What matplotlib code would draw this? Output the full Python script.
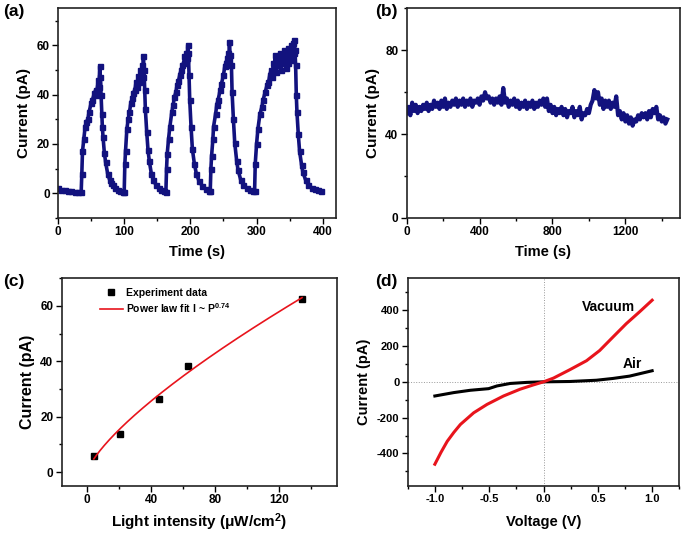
import numpy as np
import matplotlib
matplotlib.use('Agg')
import matplotlib.pyplot as plt
from matplotlib.ticker import MultipleLocator

plt.rcParams['font.family'] = ['Liberation Sans', 'DejaVu Sans']
plt.rcParams['font.weight'] = 'bold'
plt.rcParams['axes.labelweight'] = 'bold'
plt.rcParams['axes.unicode_minus'] = False
plt.rcParams['mathtext.fontset'] = 'custom'
plt.rcParams['mathtext.rm'] = 'Liberation Sans:bold'
plt.rcParams['mathtext.bf'] = 'Liberation Sans:bold'
plt.rcParams['mathtext.default'] = 'regular'

NAVY = '#12127e'

# (a) on/off photo-response, time (s) and current (pA)
a_time = [0, 5, 10, 15, 20, 25, 30, 35,
          36, 37, 39, 41, 43, 45, 47, 50, 52, 55, 57, 58, 60, 61, 62, 63, 64, 65, 66, 67, 68,
          70, 72, 75, 78, 80, 83, 86, 90, 94, 98, 100,
          101, 102, 104, 106, 108, 110, 112, 114, 116, 118, 119, 121, 123, 124, 126, 127, 128,
          129, 130, 131, 132, 134, 136, 138, 141, 144, 148, 152, 156, 160, 163,
          164, 165, 167, 169, 172, 174, 176, 178, 180, 182, 184, 186, 188, 190, 191, 193, 194,
          195, 196, 197, 198, 199, 201, 203, 206, 209, 213, 218, 223, 228, 230,
          231, 232, 234, 235, 238, 240, 242, 245, 247, 250, 252, 254, 256, 257, 258, 259, 260,
          262, 263, 265, 267, 270, 272, 276, 280, 285, 290, 295, 297,
          298, 300, 302, 305, 308, 310, 313, 316, 318, 320, 322, 324, 325, 327, 328, 330, 332,
          334, 335, 337, 338, 340, 342, 344, 345, 347, 348, 350, 352, 353, 355, 356, 357, 358,
          359, 360, 361, 363, 365, 368, 370, 374, 378, 383, 388, 393, 398]
a_current = [2.0, 1.5, 1.2, 1.0, 0.8, 0.6, 0.5, 0.4,
             8, 17, 22, 27, 29, 30, 33, 36.5, 38, 40.5, 42, 40, 44, 46, 43, 51.5, 47, 40, 32, 27, 23,
             16.5, 12.5, 8, 5.5, 4.2, 3.2, 2.3, 1.5, 1.0, 0.6, 0.5,
             12, 17, 26, 30, 33, 36.5, 38.5, 40.5, 42, 45, 43, 47.5, 45, 50, 48, 52, 47,
             55.5, 50, 42, 34, 25, 17.5, 13, 8, 5.5, 3.4, 2.2, 1.5, 1.0, 0.7,
             10, 16, 22, 27, 33, 36, 39, 41, 44, 45.5, 48, 50, 52, 53, 55.5, 54, 57,
             55, 60, 57, 48, 38, 27, 18, 12, 8, 5, 3, 1.8, 1.1, 0.8,
             10, 15, 22, 27, 32, 36, 38, 42, 44.5, 48, 51.5, 53, 55, 57, 54, 61.5, 56,
             52, 41, 30, 20.5, 13, 9.5, 5.5, 3.4, 2.2, 1.5, 1.0, 0.8,
             12, 20, 26, 32, 35, 38, 41, 44, 45, 48, 50, 47, 53, 51, 56, 49, 55,
             52, 57, 50, 56, 53, 58, 51, 56, 53, 59, 55, 60, 54, 61, 57, 62, 58,
             52, 40, 33, 24, 17, 11.5, 8.5, 5.5, 3.4, 2.3, 1.6, 1.2, 1.0]

# (b) long-term stability, one reading every 10 s
b_step = 10
b_current = [50, 53, 49, 55, 51, 54, 50, 53, 51, 54,
             52, 55, 51, 54, 52, 56, 53, 55, 52, 56,
             53, 57, 52, 55, 53, 56, 54, 57, 53, 56,
             54, 57, 53, 56, 54, 57, 53, 56, 55, 57,
             54, 58, 56, 60, 57, 58, 55, 57, 54, 57,
             55, 58, 54, 62, 55, 57, 53, 56, 54, 57,
             53, 56, 52, 55, 53, 56, 52, 55, 53, 56,
             52, 55, 53, 56, 54, 57, 53, 57, 51, 54,
             50, 53, 49, 52, 50, 53, 49, 52, 48, 51,
             50, 53, 48, 51, 49, 53, 47, 50, 49, 52,
             50, 54, 56, 61, 57, 60, 54, 57, 52, 56,
             53, 56, 52, 55, 53, 58, 49, 51, 47, 50,
             46, 49, 45, 48, 44, 47, 46, 49, 47, 50,
             48, 50, 47, 51, 48, 52, 50, 53, 47, 49,
             46, 48, 45, 47]
b_time = np.arange(len(b_current)) * b_step

# (c) photocurrent vs light intensity
c_power = [4.1, 20.3, 44.6, 62.9, 134.3]
c_current = [5.8, 13.7, 26.4, 38.3, 62.7]
c_exponent = 0.74

# (d) I-V curves
d_volt_vac = [-1.0, -0.943, -0.886, -0.825, -0.765, -0.643, -0.52, -0.368, -0.215, -0.093, 0.0,
              0.092, 0.243, 0.396, 0.517, 0.639, 0.762, 0.884, 1.0]
d_curr_vac = [-460, -393, -332, -282, -238, -173, -126, -79, -41, -17, 0,
              21, 68, 118, 175, 250, 325, 391, 456]
d_volt_air = [-1.0, -0.826, -0.673, -0.505, -0.429, -0.307, -0.153, 0.0, 0.243, 0.487,
              0.639, 0.792, 1.0]
d_curr_air = [-79, -60, -47, -38, -23, -9, -3, 0, 2, 9, 19, 32, 62]

W, H = 685, 534
fig = plt.figure(figsize=(W / 100, H / 100), dpi=100)


def box(l, t, r, b):
    return [l / W, 1 - b / H, (r - l) / W, (b - t) / H]


def style(ax, xmaj, xmin, ymaj, ymin, tsize=8.5):
    for s in ax.spines.values():
        s.set_linewidth(1.2)
        s.set_color('#222222')
    ax.xaxis.set_major_locator(MultipleLocator(xmaj))
    ax.xaxis.set_minor_locator(MultipleLocator(xmin))
    ax.yaxis.set_major_locator(MultipleLocator(ymaj))
    ax.yaxis.set_minor_locator(MultipleLocator(ymin))
    ax.tick_params(which='major', direction='out', length=4, width=1, labelsize=tsize, pad=2)
    ax.tick_params(which='minor', direction='out', length=2.5, width=1)
    for lab in ax.get_xticklabels() + ax.get_yticklabels():
        lab.set_fontweight('bold')


# (a)
ax = fig.add_axes(box(58, 8.3, 336, 218))
ax.plot(a_time, a_current, color=NAVY, lw=2.6, marker='s', ms=3.6, mec=NAVY)
ax.set_xlim(0, 420)
ax.set_ylim(-10, 75)
style(ax, 100, 50, 20, 10)
ax.set_xlabel('Time (s)', fontsize=10.5, labelpad=5)
ax.set_ylabel('Current (pA)', fontsize=11, labelpad=4)

# (b)
ax = fig.add_axes(box(406.7, 8.3, 680, 218))
ax.plot(b_time, b_current, color=NAVY, lw=3.0)
ax.set_xlim(0, 1500)
ax.set_ylim(0, 100)
style(ax, 400, 200, 40, 20)
ax.set_xlabel('Time (s)', fontsize=10.5, labelpad=5)
ax.set_ylabel('Current (pA)', fontsize=11, labelpad=4)

# (c)
ax = fig.add_axes(box(61.7, 278.3, 336.7, 486))
p = np.array(c_power)
coef = np.sum(np.array(c_current) * p ** c_exponent) / np.sum(p ** (2 * c_exponent))
p_fit = np.linspace(min(c_power), max(c_power), 200)
ax.plot(c_power, c_current, 's', color='black', ms=4, label='Experiment data')
ax.plot(p_fit, coef * p_fit ** c_exponent, color='#e8141c', lw=1.2,
        label='Power law fit I ~ P$^{0.74}$')
ax.set_xlim(-16, 156)
ax.set_ylim(-5, 70)
style(ax, 40, 20, 20, 10)
ax.set_xlabel('Light intensity (μW/cm$^{2}$)', fontsize=11, labelpad=4)
ax.set_ylabel('Current (pA)', fontsize=11.5, labelpad=4)
leg = ax.legend(loc='upper left', bbox_to_anchor=(0.105, 1.0), frameon=False,
                prop={'size': 7.5, 'weight': 'bold'}, handlelength=2.2,
                handletextpad=0.3, labelspacing=0.3)

# (d)
ax = fig.add_axes(box(407.7, 278, 679.3, 485.7))
ax.axhline(0, color='#999999', lw=0.7, ls=':', zorder=0)
ax.axvline(0, color='#999999', lw=0.7, ls=':', zorder=0)
ax.plot(d_volt_air, d_curr_air, color='black', lw=2.2)
ax.plot(d_volt_vac, d_curr_vac, color='#e8141c', lw=2.2)
ax.text(0.35, 419, 'Vacuum', fontsize=10, fontweight='bold', va='center')
ax.text(0.73, 100, 'Air', fontsize=10, fontweight='bold', va='center')
ax.set_xlim(-1.25, 1.25)
ax.set_ylim(-580, 580)
style(ax, 0.5, 0.25, 200, 100, tsize=8)
ax.set_xlabel('Voltage (V)', fontsize=10.5, labelpad=8)
ax.set_ylabel('Current (pA)', fontsize=10.5, labelpad=4)

for lab, x, y in [('(a)', 3, 4), ('(b)', 375, 4), ('(c)', 3, 274), ('(d)', 375, 274)]:
    fig.text(x / W, 1 - y / H, lab, fontsize=12.5, fontweight='bold', va='top', ha='left')

fig.savefig('out.png', dpi=100)
